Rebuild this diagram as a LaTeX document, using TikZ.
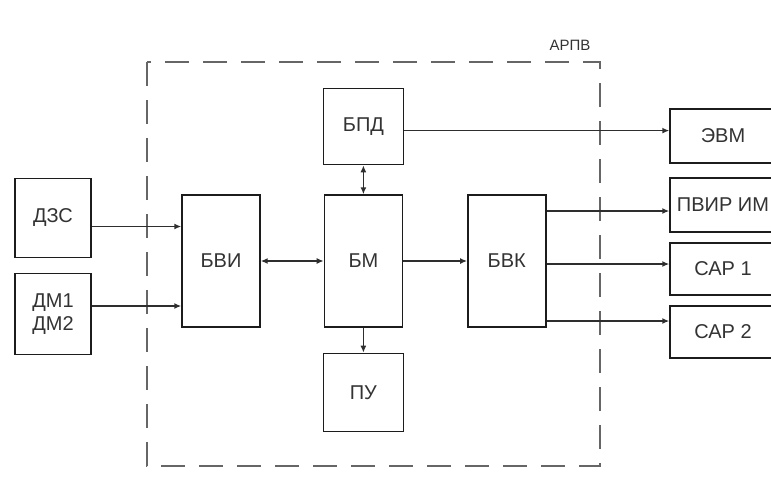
\documentclass[tikz,border=0pt]{standalone}
\usepackage{fontspec}
\setmainfont{Liberation Sans}
\usepackage{xcolor}
\definecolor{Ink}{HTML}{1C1C1C}
\definecolor{Label}{HTML}{333333}
\definecolor{Wire}{HTML}{2E2E2E}
\definecolor{Zone}{HTML}{666666}
\usetikzlibrary{arrows.meta,positioning,calc}
\tikzset{
  block/.style={draw=Ink,line width=1.4pt,fill=white,minimum width=78pt,
    minimum height=132pt,align=center,text=Label,
    font=\fontsize{20}{23}\selectfont,inner sep=2pt},
  outbox/.style={block,minimum width=106pt,minimum height=54pt},
  wire/.style={-{Latex[length=7pt,width=6pt]},line width=1.6pt,draw=Wire},
  wire2/.style={wire,{Latex[length=7pt,width=6pt]}-{Latex[length=7pt,width=6pt]}},
  zone/.style={draw=Zone,line width=1.1pt,dash pattern=on 24pt off 14pt},
  tag/.style={font=\fontsize{15}{18}\selectfont,text=Label}
}

\begin{document}
\begin{tikzpicture}[x=1pt,y=-1pt,node distance=63pt]
\useasboundingbox (0,0) rectangle (771,488);
\clip (0,0) rectangle (771,488);
\node[block] (bvi) at (221,261) {БВИ};
\node[block,right=of bvi] (bm) {БМ};
\node[block,right=64pt of bm] (bvk) {БВК};
\node[block,minimum width=80pt,minimum height=76pt,above=29pt of bm] (bpd) {БПД};
\node[block,minimum width=80pt,minimum height=78pt,below=25pt of bm] (pu) {ПУ};
\node[block,minimum width=76pt,minimum height=79pt] (dzs) at (53,218) {ДЗС};
\node[block,minimum width=76pt,minimum height=81pt,align=left] (dm) at (53,314) {ДМ1\\ДМ2};
\node[outbox] (evm) at (723,136) {ЭВМ};
\node[outbox] (pvir) at (723,205) {ПВИР ИМ};
\node[outbox,minimum height=52pt] (sar1) at (723,269) {САР 1};
\node[outbox,minimum height=52pt] (sar2) at (723,332) {САР 2};
\node[tag] (arpv) at (570,45) {АРПВ};
% контур АРПВ
\draw[zone] (147,62) rectangle (600,466);
% связи
\draw[wire] ($(dzs.east)+(0,8.5)$) -- ($(dzs.east -| bvi.west)+(0,8.5)$);
\draw[wire] ($(dm.east)+(0,-8)$) -- ($(dm.east -| bvi.west)+(0,-8)$);
\draw[wire2] (bvi) -- (bm);
\draw[wire2] (bm) -- (bpd);
\draw[wire] (bm) -- (pu);
\draw[wire] (bm) -- (bvk);
\draw[wire] ($(bpd.east)+(0,4)$) -- ($(bpd.east -| evm.west)+(0,4)$);
\draw[wire] ($(bvk.east)+(0,-50)$) -- ($(bvk.east -| pvir.west)+(0,-50)$);
\draw[wire] ($(bvk.east)+(0,3)$) -- ($(bvk.east -| sar1.west)+(0,3)$);
\draw[wire] ($(bvk.east)+(0,60)$) -- ($(bvk.east -| sar2.west)+(0,60)$);
\end{tikzpicture}
\end{document}
